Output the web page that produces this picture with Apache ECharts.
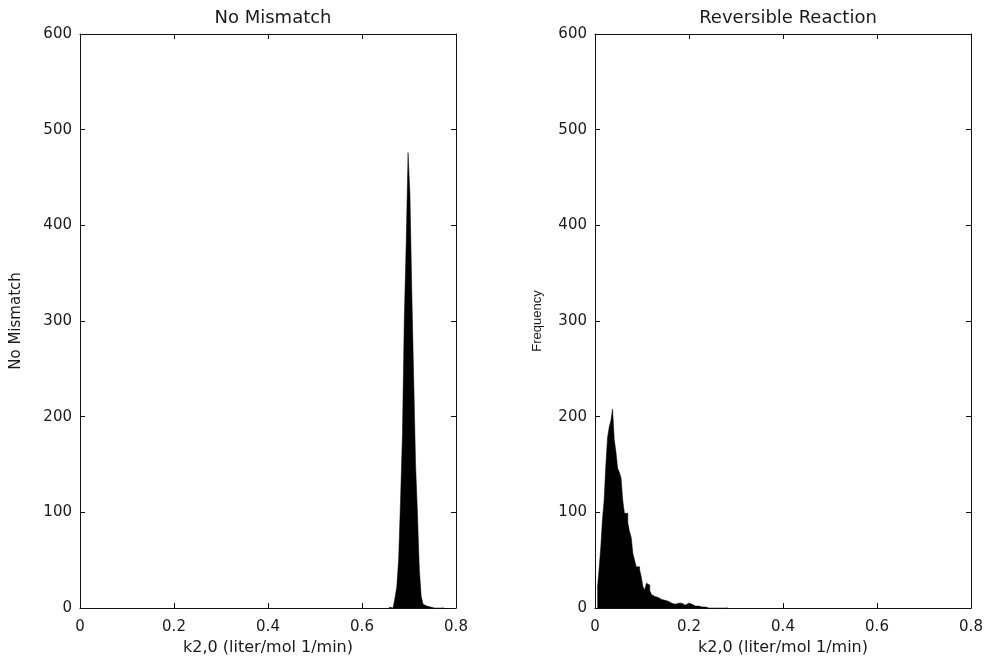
<!DOCTYPE html>
<html>
<head>
<meta charset="utf-8">
<script src="https://cdn.jsdelivr.net/npm/echarts@6/dist/echarts.min.js"></script>
<style>
html,body{margin:0;padding:0;background:#fff;}
#chart{width:986px;height:656px;}
</style>
</head>
<body>
<div id="chart"></div>
<script>
// ---- data ----
const titles = ['No Mismatch', 'Reversible Reaction'];
const yNames = ['No Mismatch', 'Frequency'];
const xName = 'k2,0 (liter/mol 1/min)';
const xTicks = [0, 0.2, 0.4, 0.6, 0.8];
const yTicks = [0, 100, 200, 300, 400, 500, 600];

// left histogram: bins start at leftStart, width leftBin
const leftStart = 0.658;
const leftBin = 0.004;
const leftCounts = [1, 0, 1, 10, 22, 52, 113, 181, 303, 381, 476, 433, 330, 240, 150, 99, 40, 12, 4, 2, 2, 1,
  0, 0, 0, 0, 0, 0, 1];

// right histogram
const rightStart = 0.005;
const rightBin = 0.0036;
const rightCounts = [20, 40, 63, 92, 113, 149, 178, 189, 196, 208, 176, 163, 146, 142, 136, 113, 99, 99, 89, 80,
  74, 57, 50, 43, 43, 40, 32, 22, 19, 26, 24, 18, 14, 12, 12, 11, 10, 9, 9, 8,
  7, 7, 6, 5, 5, 4, 4, 5, 4, 5, 5, 3, 3, 5, 4, 4, 3, 2, 2, 2,
  1, 1, 3, 1, 0, 0, 0, 0, 0, 0, 0, 0, 0, 0, 0, 0, 1];

function stepData(start, w, counts) {
  const d = counts.map((c, i) => [start + i * w, c]);
  d.push([start + counts.length * w, 0]);
  return d;
}

const FONT = '"DejaVu Sans", "Liberation Sans", sans-serif';
const FONT2 = '"Liberation Sans", Arial, sans-serif';
const TXT = '#1a1a1a';
const LINE = '#111';

const grids = [
  {left: 80, right: 530, top: 34, bottom: 48, outerBoundsMode: 'none', containLabel: false},
  {left: 595, right: 15, top: 34, bottom: 48, outerBoundsMode: 'none', containLabel: false}
];

const xAxes = [], yAxes = [];
[0, 1].forEach(g => {
  xAxes.push({
    type: 'value', gridIndex: g, min: 0, max: 0.8, interval: 0.2, position: 'bottom',
    name: xName, nameLocation: 'middle', nameGap: 30,
    nameTextStyle: {fontFamily: FONT, fontSize: 16, color: TXT},
    axisLine: {show: true, onZero: false, lineStyle: {color: LINE, width: 1}},
    axisTick: {show: true, inside: true, length: 5, lineStyle: {color: LINE}},
    axisLabel: {fontFamily: FONT, fontSize: 15, color: TXT, margin: 12,
      customValues: xTicks, formatter: v => String(+v.toFixed(1))},
    splitLine: {show: false}
  });
  xAxes.push({
    type: 'value', gridIndex: g, min: 0, max: 0.8, interval: 0.2, position: 'top',
    axisLine: {show: true, onZero: false, lineStyle: {color: LINE, width: 1}},
    axisTick: {show: true, inside: true, length: 5, lineStyle: {color: LINE}},
    axisLabel: {show: false}, splitLine: {show: false}
  });
  yAxes.push({
    type: 'value', gridIndex: g, min: 0, max: 600, interval: 100, position: 'left',
    name: yNames[g], nameLocation: 'middle', nameGap: g === 0 ? 56 : 51, nameRotate: 90,
    nameTextStyle: {fontFamily: g === 0 ? FONT : FONT2, fontSize: g === 0 ? 15 : 13, color: TXT},
    axisLine: {show: true, onZero: false, lineStyle: {color: LINE, width: 1}},
    axisTick: {show: true, inside: true, length: 5, lineStyle: {color: LINE}},
    axisLabel: {fontFamily: FONT, fontSize: 15, color: TXT, margin: 8, customValues: yTicks},
    splitLine: {show: false}
  });
  yAxes.push({
    type: 'value', gridIndex: g, min: 0, max: 600, interval: 100, position: 'right',
    axisLine: {show: true, onZero: false, lineStyle: {color: LINE, width: 1}},
    axisTick: {show: true, inside: true, length: 5, lineStyle: {color: LINE}},
    axisLabel: {show: false}, splitLine: {show: false}
  });
});

const chart = echarts.init(document.getElementById('chart'), null, {renderer: 'canvas'});
chart.setOption({
  backgroundColor: '#fff',
  animation: false,
  title: [
    {text: titles[0], left: 268, top: 4, textAlign: 'center',
      textStyle: {fontFamily: FONT, fontSize: 18, fontWeight: 'normal', color: TXT}},
    {text: titles[1], left: 783, top: 4, textAlign: 'center',
      textStyle: {fontFamily: FONT, fontSize: 18, fontWeight: 'normal', color: TXT}}
  ],
  grid: grids,
  xAxis: xAxes,
  yAxis: yAxes,
  series: [
    {type: 'line', xAxisIndex: 0, yAxisIndex: 0, step: 'end', showSymbol: false, symbol: 'none',
      data: stepData(leftStart, leftBin, leftCounts),
      lineStyle: {color: '#000', width: 0.5}, areaStyle: {color: '#000', opacity: 1, origin: 'start'}},
    {type: 'line', xAxisIndex: 2, yAxisIndex: 2, step: 'end', showSymbol: false, symbol: 'none',
      data: stepData(rightStart, rightBin, rightCounts),
      lineStyle: {color: '#000', width: 0.5}, areaStyle: {color: '#000', opacity: 1, origin: 'start'}}
  ]
});
</script>
</body>
</html>
